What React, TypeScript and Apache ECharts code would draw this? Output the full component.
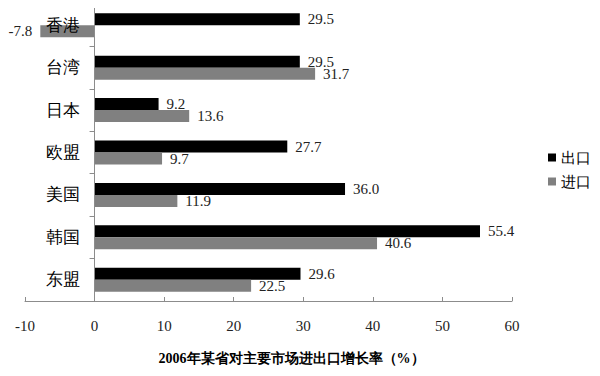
import React, { useEffect, useRef } from "react";
import * as echarts from "echarts";

const categories = ["香港", "台湾", "日本", "欧盟", "美国", "韩国", "东盟"];
const exportValues = [29.5, 29.5, 9.2, 27.7, 36.0, 55.4, 29.6];
const importValues = [-7.8, 31.7, 13.6, 9.7, 11.9, 40.6, 22.5];
const seriesNames = ["出口", "进口"];
const axisTitle = "2006年某省对主要市场进出口增长率（%）";

const serif = "Liberation Serif, serif";

function toData(values: number[]) {
  return values.map((v) =>
    v < 0 ? { value: v, label: { position: "left" as const } } : { value: v }
  );
}

export default function App() {
  const ref = useRef<HTMLDivElement>(null);
  useEffect(() => {
    if (!ref.current) return;
    const chart = echarts.init(ref.current, null, { renderer: "svg" });
    const labelStyle = {
      show: true,
      position: "right" as const,
      distance: 8,
      color: "#222",
      fontSize: 15,
      fontFamily: serif,
      formatter: (p: any) => Number(p.value).toFixed(1),
    };
    chart.setOption({
      animation: false,
      backgroundColor: "#fff",
      textStyle: { fontFamily: serif },
      grid: { left: 25, right: 88, top: 4, bottom: 75, containLabel: false, outerBoundsMode: "none" },
      legend: {
        orient: "vertical",
        left: 543,
        top: 145,
        icon: "rect",
        itemWidth: 8,
        itemHeight: 8,
        itemGap: 9,
        textStyle: { fontSize: 15, color: "#000", fontFamily: serif },
        data: seriesNames,
      },
      xAxis: {
        type: "value",
        min: -10,
        max: 60,
        interval: 10,
        splitLine: { show: false },
        axisLine: { show: true, lineStyle: { color: "#8c8c8c" } },
        axisTick: { show: true, inside: true, length: 4, lineStyle: { color: "#8c8c8c" } },
        axisLabel: { color: "#222", fontSize: 15, margin: 17, fontFamily: serif },
        name: axisTitle,
        nameLocation: "middle",
        nameGap: 50,
        nameTextStyle: {
          fontSize: 14,
          fontWeight: "bold",
          color: "#000",
          fontFamily: serif,
          padding: [0, 0, 0, 46],
        },
      },
      yAxis: {
        type: "category",
        inverse: true,
        data: categories,
        z: 5,
        axisLine: { show: true, onZero: true, lineStyle: { color: "#8c8c8c" } },
        axisTick: { show: true, length: 5, lineStyle: { color: "#8c8c8c" } },
        axisLabel: { color: "#000", fontSize: 17, margin: -55, align: "right", fontFamily: serif },
      },
      series: [
        {
          name: seriesNames[0],
          type: "bar",
          data: toData(exportValues),
          itemStyle: { color: "#000" },
          barWidth: 12,
          barGap: "0%",
          label: labelStyle,
        },
        {
          name: seriesNames[1],
          type: "bar",
          data: toData(importValues),
          itemStyle: { color: "#808080" },
          barWidth: 12,
          barGap: "0%",
          label: labelStyle,
        },
      ],
    });
    return () => chart.dispose();
  }, []);
  return <div ref={ref} style={{ width: 600, height: 376, marginLeft: -8, marginTop: -8 }} />;
}
